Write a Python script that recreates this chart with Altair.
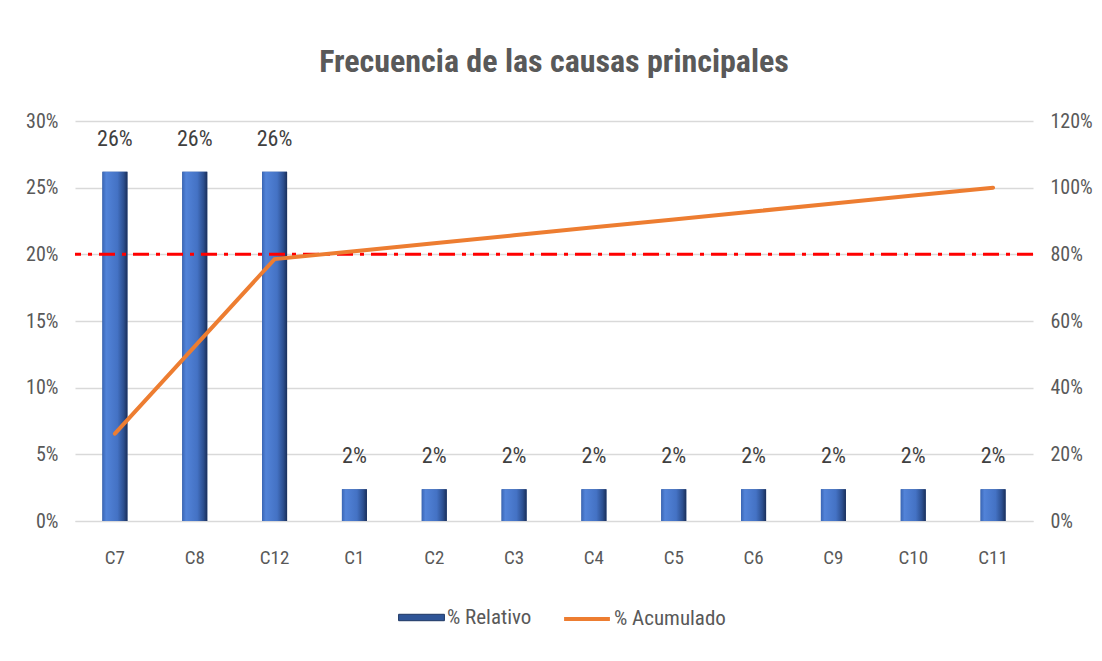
import altair as alt
import pandas as pd

categorias = ["C7", "C8", "C12", "C1", "C2", "C3", "C4", "C5", "C6", "C9", "C10", "C11"]
relativo = [0.2619, 0.2619, 0.2619, 0.0238, 0.0238, 0.0238, 0.0238, 0.0238, 0.0238, 0.0238, 0.0238, 0.0238]
acumulado = [0.2619, 0.5238, 0.7857, 0.8095, 0.8333, 0.8571, 0.8810, 0.9048, 0.9286, 0.9524, 0.9762, 1.0]
umbral = 0.8  # 80% line on the right axis (= 20% on the left axis)

df = pd.DataFrame({
    "causa": categorias,
    "relativo": relativo,
    "acumulado": acumulado,
    "s_rel": ["% Relativo"] * len(categorias),
    "s_acu": ["% Acumulado"] * len(categorias),
})

FONT = "Liberation Sans Narrow, Roboto Condensed, DejaVu Sans Condensed, sans-serif"
GRAY = "#595959"

x_enc = alt.X(
    "causa:N",
    sort=categorias,
    scale=alt.Scale(paddingInner=0, paddingOuter=0),
    axis=alt.Axis(title=None, labelAngle=0, ticks=False, domain=True, domainColor="#D9D9D9",
                  labelPadding=27, labelFontSize=19, labelColor=GRAY, labelFont=FONT, grid=False),
)

left_axis = alt.Axis(title=None, orient="left", format=".0%", values=[0, 0.05, 0.1, 0.15, 0.2, 0.25, 0.3],
                     domain=False, ticks=False, labelPadding=17, labelFontSize=20, labelColor=GRAY,
                     labelFont=FONT, grid=True, gridColor="#D9D9D9", gridWidth=1.5)
left_scale = alt.Scale(domain=[0, 0.3], nice=False)

y_left = alt.Y("relativo:Q", scale=left_scale, axis=left_axis)

base = alt.Chart(df)

bars_legend = base.mark_bar(size=25).encode(
    x=x_enc,
    y=y_left,
    fill=alt.Fill("s_rel:N", scale=alt.Scale(domain=["% Relativo"], range=["#2F5597"]),
                  legend=alt.Legend(title=None, orient="none", legendX=323, legendY=473,
                                    symbolType="M-1,-0.14H1V0.14H-1Z", symbolSize=2100,
                                    symbolStrokeColor="#1F3864", symbolStrokeWidth=1,
                                    labelFontSize=21, labelColor=GRAY, labelFont=FONT, labelOffset=2)),
)

grad = alt.Gradient(
    gradient="linear", x1=0, x2=1, y1=0, y2=0,
    stops=[
        alt.GradientStop(color="#3A66B5", offset=0),
        alt.GradientStop(color="#5283D8", offset=0.15),
        alt.GradientStop(color="#4472C4", offset=0.6),
        alt.GradientStop(color="#2C4F8F", offset=0.85),
        alt.GradientStop(color="#1A2F5A", offset=1),
    ],
)

bars = base.mark_bar(size=25, fill=grad).encode(x=x_enc, y=y_left)

labels = base.mark_text(dy=-33, fontSize=22, color="#404040", font=FONT, baseline="middle").encode(
    x=x_enc, y=y_left, text=alt.Text("relativo:Q", format=".0%"),
)

rule = alt.Chart(pd.DataFrame({"u": [umbral / 4]})).mark_rule(
    color="#FF0000", strokeWidth=3, strokeDash=[16, 7, 4, 7]
).encode(y=alt.Y("u:Q", scale=left_scale, axis=left_axis))

left = alt.layer(bars_legend, bars, labels, rule)

line = base.mark_line(strokeWidth=4, strokeCap="round").encode(
    x=x_enc,
    y=alt.Y("acumulado:Q", scale=alt.Scale(domain=[0, 1.2], nice=False),
            axis=alt.Axis(title=None, orient="right", format=".0%", values=[0, 0.2, 0.4, 0.6, 0.8, 1.0, 1.2],
                          domain=False, ticks=False, labelPadding=17, labelFontSize=20, labelColor=GRAY,
                          labelFont=FONT, grid=False)),
    stroke=alt.Stroke("s_acu:N", scale=alt.Scale(domain=["% Acumulado"], range=["#ED7D31"]),
                      legend=alt.Legend(title=None, orient="none", legendX=487, legendY=473,
                                        symbolType="stroke", symbolSize=2100, symbolStrokeWidth=4,
                                        labelFontSize=21, labelColor=GRAY, labelFont=FONT, labelOffset=2)),
)

chart = alt.layer(left, line).resolve_scale(y="independent", fill="independent", stroke="independent").properties(
    width=958,
    height=400,
    padding={"left": 67, "top": 113, "right": 61, "bottom": 132},
    autosize=alt.AutoSizeParams(type="none"),
    background="white",
    title=alt.Title("Frecuencia de las causas principales", fontSize=32, fontWeight="bold",
                    color=GRAY, font=FONT, anchor="middle", offset=32),
).configure_view(stroke=None)

chart.save("out.html", embed_options={"renderer": "svg", "actions": False})
